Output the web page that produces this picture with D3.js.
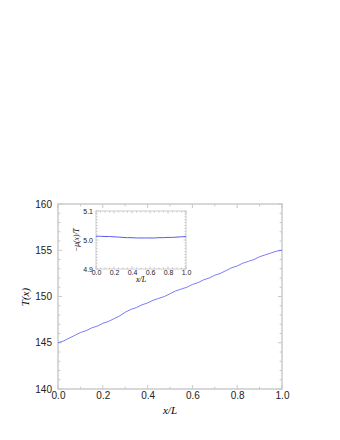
<!DOCTYPE html>
<html>
<head>
<meta charset="utf-8">
<script src="https://cdn.jsdelivr.net/npm/d3@7"></script>
<style>
  body { margin: 0; background: #fff; }
  svg { display: block; }
  .tick text { font-family: "Liberation Sans", Arial, sans-serif; fill: #222; }
</style>
</head>
<body>
<svg id="chart" width="340" height="440"></svg>
<script>
// main curve: temperature profile
var xPos = [0, 0.025, 0.05, 0.075, 0.1, 0.125, 0.15, 0.175, 0.2, 0.225, 0.25, 0.275, 0.3, 0.325, 0.35, 0.375, 0.4,
    0.425, 0.45, 0.475, 0.5, 0.525, 0.55, 0.575, 0.6, 0.625, 0.65, 0.675, 0.7, 0.725, 0.75, 0.775, 0.8,
    0.825, 0.85, 0.875, 0.9, 0.925, 0.95, 0.975, 1.0];
var tVals = [145.0, 145.2, 145.5, 145.8, 146.1, 146.3, 146.6, 146.8, 147.1, 147.3, 147.6, 147.9, 148.3, 148.6, 148.8, 149.1, 149.3,
    149.6, 149.8, 150.0, 150.3, 150.6, 150.8, 151.0, 151.3, 151.5, 151.8, 152.0, 152.3, 152.5, 152.8, 153.1, 153.3,
    153.6, 153.8, 154.0, 154.3, 154.5, 154.7, 154.9, 155.0];

// inset curve: -mu(x)/T
var xInset = [0, 0.05, 0.1, 0.15, 0.2, 0.25, 0.3, 0.35, 0.4, 0.45, 0.5, 0.55, 0.6, 0.65, 0.7, 0.75, 0.8, 0.85, 0.9, 0.95, 1.0];
var muVals = [5.013, 5.013, 5.012, 5.012, 5.011, 5.010, 5.009, 5.008, 5.008, 5.007, 5.007, 5.007, 5.007, 5.007, 5.008, 5.008, 5.009, 5.009, 5.010, 5.011, 5.012];

var xTicks = [0, 0.2, 0.4, 0.6, 0.8, 1.0];
var yTicks = [140, 145, 150, 155, 160];
var yTicksInset = [4.9, 5.0, 5.1];

var svg = d3.select("#chart");
var axisColor = "#c8c8c8";

function drawPanel(box, xDom, yDom, xt, yt, xMinor, yMinor, fs, lw) {
    var x = d3.scaleLinear().domain(xDom).range([box.left, box.right]);
    var y = d3.scaleLinear().domain(yDom).range([box.bottom, box.top]);
    var g = svg.append("g");

    // minor + major ticks inward on all four sides
    var tl = box.tick;
    xMinor.forEach(function (v) {
        var major = xt.some(function (m) { return Math.abs(m - v) < 1e-9; });
        var len = major ? tl : tl * 0.6;
        g.append("line").attr("x1", x(v)).attr("x2", x(v)).attr("y1", box.bottom).attr("y2", box.bottom - len)
            .attr("stroke", axisColor).attr("stroke-width", 1);
        g.append("line").attr("x1", x(v)).attr("x2", x(v)).attr("y1", box.top).attr("y2", box.top + len)
            .attr("stroke", axisColor).attr("stroke-width", 1);
    });
    yMinor.forEach(function (v) {
        var major = yt.some(function (m) { return Math.abs(m - v) < 1e-9; });
        var len = major ? tl : tl * 0.6;
        g.append("line").attr("y1", y(v)).attr("y2", y(v)).attr("x1", box.left).attr("x2", box.left + len)
            .attr("stroke", axisColor).attr("stroke-width", 1);
        g.append("line").attr("y1", y(v)).attr("y2", y(v)).attr("x1", box.right).attr("x2", box.right - len)
            .attr("stroke", axisColor).attr("stroke-width", 1);
    });

    g.append("rect").attr("x", box.left).attr("y", box.top)
        .attr("width", box.right - box.left).attr("height", box.bottom - box.top)
        .attr("fill", "none").attr("stroke", axisColor).attr("stroke-width", lw);

    // tick labels through d3 axes
    var xa = g.append("g").attr("transform", "translate(0," + box.bottom + ")")
        .call(d3.axisBottom(x).tickValues(xt).tickFormat(d3.format(".1f")).tickSize(0).tickPadding(box.padX));
    var ya = g.append("g").attr("transform", "translate(" + box.left + ",0)")
        .call(d3.axisLeft(y).tickValues(yt).tickFormat(box.yFmt).tickSize(0).tickPadding(box.padY));
    [xa, ya].forEach(function (a) {
        a.select(".domain").remove();
        a.selectAll("text").style("font-size", fs + "px");
    });
    return {x: x, y: y, g: g};
}

// main panel
var main = drawPanel({left: 58, right: 282, top: 204, bottom: 389, tick: 4, padX: 3, padY: 6, yFmt: d3.format("d")},
    [0, 1], [140, 160], xTicks, yTicks, d3.range(0, 1.0001, 0.1), d3.range(140, 160.001, 1), 10, 1.4);

main.g.append("path")
    .datum(d3.zip(xPos, tVals))
    .attr("fill", "none").attr("stroke", "#5a5af2").attr("stroke-width", 0.8)
    .attr("d", d3.line().x(function (d) { return main.x(d[0]); }).y(function (d) { return main.y(d[1]); }));

svg.append("text").attr("x", 170).attr("y", 414).attr("text-anchor", "middle")
    .attr("font-family", "Liberation Serif, serif").attr("font-style", "italic").attr("font-size", 11)
    .text("x/L");
svg.append("text").attr("transform", "translate(29,297) rotate(-90)").attr("text-anchor", "middle")
    .attr("font-family", "Liberation Serif, serif").attr("font-style", "italic").attr("font-size", 11)
    .text("T(x)");

// inset panel
var ins = drawPanel({left: 96, right: 186, top: 211, bottom: 269, tick: 2.5, padX: 1, padY: 3, yFmt: d3.format(".1f")},
    [0, 1], [4.9, 5.1], xTicks, yTicksInset, d3.range(0, 1.0001, 0.05), d3.range(4.9, 5.1001, 0.01), 7, 0.9);

ins.g.append("path")
    .datum(d3.zip(xInset, muVals))
    .attr("fill", "none").attr("stroke", "#5a5af2").attr("stroke-width", 1)
    .attr("d", d3.line().x(function (d) { return ins.x(d[0]); }).y(function (d) { return ins.y(d[1]); }));

svg.append("text").attr("x", 141).attr("y", 282).attr("text-anchor", "middle")
    .attr("font-family", "Liberation Serif, serif").attr("font-style", "italic").attr("font-size", 8)
    .text("x/L");
svg.append("text").attr("transform", "translate(79,240) rotate(-90)").attr("text-anchor", "middle")
    .attr("font-family", "Liberation Serif, serif").attr("font-style", "italic").attr("font-size", 7.5)
    .text("\u2212\u03bc(x)/T");
</script>
</body>
</html>
